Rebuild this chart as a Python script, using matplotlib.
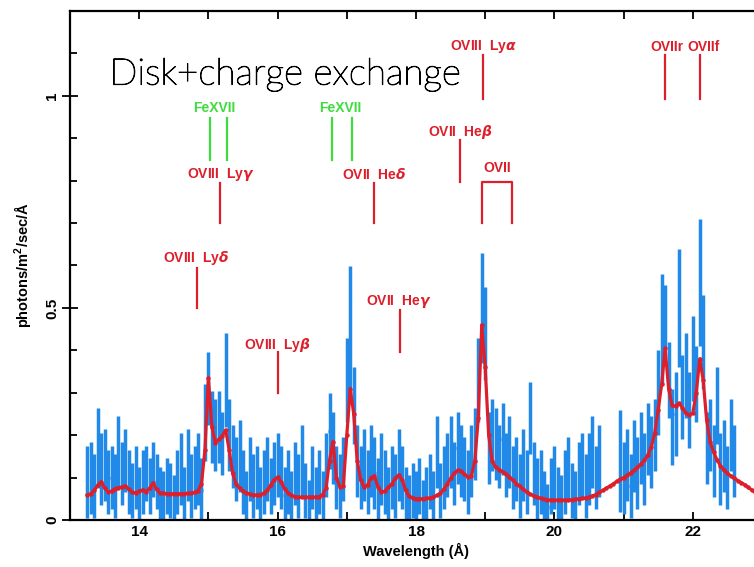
import numpy as np
import matplotlib
matplotlib.use("Agg")
import matplotlib.pyplot as plt
import matplotlib.patheffects as pe
from matplotlib.ticker import MultipleLocator, FixedLocator

nan = np.nan

# griglia in lunghezza d'onda (Angstrom)
wl_data = np.round(np.arange(13.25, 22.601, 0.05), 2)
wl_model = np.round(np.arange(13.25, 23.001, 0.05), 2)

# flusso osservato (photons/m^2/sec/A)
flux = [
    0.09, 0.10, 0.08, 0.17, 0.12, 0.13, 0.09, 0.10, 0.08, 0.16, 0.11, 0.14, 0.09, 0.07, 0.10, 0.06, 0.09, 0.11, 0.08, 0.12,
    0.09, 0.06, 0.05, 0.08, 0.07, 0.04, 0.09, 0.12, 0.06, 0.13, 0.08, 0.10, 0.12, 0.07, 0.23, 0.31, 0.22, 0.20, 0.22, 0.18,
    0.33, 0.20, 0.15, 0.12, 0.15, 0.09, 0.05, 0.12, 0.08, 0.10, 0.06, 0.09, 0.12, 0.08, 0.11, 0.13, 0.10, 0.06, 0.09, 0.05,
    0.11, 0.08, 0.14, 0.07, 0.04, 0.10, 0.06, 0.09, 0.05, 0.13, 0.21, 0.17, 0.10, 0.08, 0.12, 0.33, 0.45, 0.27, 0.14, 0.10,
    0.13, 0.09, 0.14, 0.11, 0.07, 0.12, 0.09, 0.06, 0.10, 0.08, 0.13, 0.10, 0.06, 0.04, 0.07, 0.05, 0.08, 0.04, 0.06, 0.09,
    0.05, 0.16, 0.07, 0.10, 0.13, 0.16, 0.11, 0.17, 0.14, 0.12, 0.09, 0.14, 0.18, 0.33, 0.50, 0.44, 0.17, 0.20, 0.18, 0.15,
    0.19, 0.13, 0.16, 0.10, 0.12, 0.08, 0.13, 0.09, 0.24, 0.11, 0.07, 0.09, 0.05, 0.03, 0.08, 0.10, 0.06, 0.04, 0.09, 0.12,
    0.07, 0.05, 0.11, 0.13, 0.08, 0.12, 0.16, 0.10, 0.14, nan, nan, nan, nan, nan, 0.14, 0.10, 0.13, 0.08, 0.15, 0.11,
    0.17, 0.12, 0.19, 0.16, 0.20, 0.30, 0.45, 0.47, 0.33, 0.22, 0.25, 0.50, 0.29, 0.34, 0.26, 0.38, 0.32, 0.56, 0.42, 0.17,
    0.20, 0.14, 0.27, 0.12, 0.15, 0.10, 0.20, 0.14,
]

flux_err = [
    0.085, 0.085, 0.075, 0.095, 0.085, 0.085, 0.075, 0.075, 0.075, 0.085, 0.075, 0.075, 0.075, 0.065, 0.075, 0.065, 0.075, 0.065, 0.065, 0.065,
    0.065, 0.065, 0.065, 0.065, 0.065, 0.065, 0.075, 0.085, 0.065, 0.085, 0.075, 0.075, 0.085, 0.075, 0.090, 0.085, 0.085, 0.085, 0.085, 0.075,
    0.110, 0.085, 0.075, 0.075, 0.085, 0.075, 0.065, 0.075, 0.075, 0.075, 0.065, 0.075, 0.075, 0.065, 0.075, 0.075, 0.075, 0.065, 0.075, 0.065,
    0.075, 0.075, 0.085, 0.065, 0.055, 0.075, 0.065, 0.075, 0.065, 0.075, 0.090, 0.085, 0.075, 0.075, 0.075, 0.100, 0.150, 0.090, 0.085, 0.075,
    0.085, 0.075, 0.085, 0.085, 0.075, 0.085, 0.075, 0.065, 0.075, 0.075, 0.085, 0.075, 0.065, 0.065, 0.065, 0.065, 0.065, 0.055, 0.065, 0.065,
    0.065, 0.085, 0.065, 0.075, 0.075, 0.085, 0.075, 0.085, 0.085, 0.075, 0.075, 0.085, 0.085, 0.100, 0.130, 0.110, 0.085, 0.085, 0.085, 0.075,
    0.085, 0.075, 0.085, 0.075, 0.075, 0.075, 0.085, 0.075, 0.085, 0.075, 0.075, 0.075, 0.065, 0.055, 0.065, 0.075, 0.065, 0.065, 0.075, 0.075,
    0.065, 0.065, 0.075, 0.075, 0.075, 0.085, 0.085, 0.075, 0.085, nan, nan, nan, nan, nan, 0.120, 0.085, 0.085, 0.075, 0.085, 0.085,
    0.085, 0.085, 0.085, 0.085, 0.085, 0.100, 0.130, 0.085, 0.090, 0.090, 0.100, 0.140, 0.100, 0.100, 0.090, 0.100, 0.090, 0.150, 0.110, 0.085,
    0.085, 0.085, 0.090, 0.085, 0.085, 0.075, 0.085, 0.085,
]

# modello disco + scambio di carica
model = [
    0.059, 0.062, 0.070, 0.082, 0.090, 0.076, 0.066, 0.068, 0.074, 0.076, 0.078, 0.080, 0.072, 0.065, 0.064, 0.068, 0.071, 0.067, 0.075, 0.087,
    0.072, 0.064, 0.063, 0.062, 0.062, 0.062, 0.062, 0.062, 0.062, 0.063, 0.063, 0.065, 0.069, 0.085, 0.165, 0.335, 0.220, 0.182, 0.190, 0.198,
    0.212, 0.165, 0.110, 0.085, 0.075, 0.068, 0.064, 0.061, 0.059, 0.059, 0.060, 0.063, 0.070, 0.082, 0.095, 0.101, 0.090, 0.074, 0.064, 0.058,
    0.055, 0.054, 0.054, 0.054, 0.054, 0.054, 0.054, 0.055, 0.060, 0.076, 0.140, 0.185, 0.100, 0.078, 0.080, 0.200, 0.310, 0.250, 0.140, 0.095,
    0.078, 0.082, 0.100, 0.104, 0.078, 0.066, 0.068, 0.077, 0.085, 0.098, 0.106, 0.095, 0.070, 0.056, 0.052, 0.050, 0.050, 0.050, 0.051, 0.052,
    0.054, 0.058, 0.063, 0.072, 0.085, 0.098, 0.110, 0.117, 0.115, 0.108, 0.102, 0.103, 0.140, 0.240, 0.460, 0.360, 0.200, 0.140, 0.124, 0.119,
    0.114, 0.108, 0.101, 0.094, 0.086, 0.079, 0.072, 0.066, 0.061, 0.057, 0.054, 0.051, 0.049, 0.048, 0.047, 0.047, 0.047, 0.047, 0.047, 0.047,
    0.048, 0.049, 0.050, 0.051, 0.052, 0.054, 0.057, 0.060, 0.065, 0.070, 0.075, 0.080, 0.085, 0.091, 0.096, 0.100, 0.105, 0.111, 0.117, 0.124,
    0.132, 0.141, 0.153, 0.172, 0.205, 0.260, 0.320, 0.405, 0.310, 0.270, 0.268, 0.275, 0.265, 0.252, 0.247, 0.252, 0.300, 0.380, 0.330, 0.235,
    0.185, 0.160, 0.142, 0.128, 0.118, 0.110, 0.104, 0.099, 0.093, 0.088, 0.083, 0.077, 0.071, 0.066, 0.062, 0.058,
]

# identificazione delle righe: (testo, x etichetta, y etichetta, x riga, y inizio, y fine)
red_labels = [
    (r"OVIII  Ly$\alpha$", 18.97, 1.116, [18.97], 1.097, 0.993),
    ("OVIIr", 21.62, 1.116, [21.60], 1.097, 0.993),
    ("OVIIf", 22.16, 1.116, [22.10], 1.097, 0.993),
    (r"OVIII  Ly$\gamma$", 15.18, 0.814, [15.17], 0.795, 0.700),
    (r"OVII  He$\delta$", 17.40, 0.814, [17.39], 0.795, 0.700),
    (r"OVII  He$\beta$", 18.64, 0.915, [18.63], 0.896, 0.797),
    (r"OVIII  Ly$\delta$", 14.82, 0.618, [14.83], 0.594, 0.500),
    (r"OVIII  Ly$\beta$", 16.00, 0.413, [16.00], 0.396, 0.300),
    (r"OVII  He$\gamma$", 17.75, 0.514, [17.77], 0.495, 0.396),
]
green_labels = [
    ("FeXVII", 15.08, 0.972, [15.03, 15.27], 0.948, 0.849),
    ("FeXVII", 16.90, 0.972, [16.79, 17.08], 0.948, 0.849),
]
triplet = [18.95, 19.39]

plt.rcParams["font.family"] = ["Liberation Sans", "DejaVu Sans"]
plt.rcParams["mathtext.fontset"] = "custom"
plt.rcParams["mathtext.it"] = "DejaVu Sans:italic:bold"
plt.rcParams["mathtext.rm"] = "Liberation Sans:bold"

blue = "#2189e8"
red = "#dd1f2b"
green = "#3fdc3f"

fig = plt.figure(figsize=(7.54, 5.67), dpi=100)
ax = fig.add_axes([70 / 754, 1 - 520 / 567, 692 / 754, 509 / 567])

ax.errorbar(wl_data, flux, yerr=flux_err, xerr=0.015, fmt="none",
            ecolor=blue, elinewidth=2.5, capsize=0, zorder=2)
ax.plot(wl_model, model, color=red, lw=2.3, marker="o", ms=2.2, zorder=3)

for txt, xl, yl, xs, y0, y1 in red_labels:
    ax.text(xl, yl, txt, color=red, fontsize=10, fontweight="bold",
            ha="center", va="center")
    for x in xs:
        ax.plot([x, x], [y1, y0], color=red, lw=1.6)

for txt, xl, yl, xs, y0, y1 in green_labels:
    ax.text(xl, yl, txt, color=green, fontsize=10, fontweight="bold",
            ha="center", va="center")
    for x in xs:
        ax.plot([x, x], [y1, y0], color=green, lw=1.6)

ax.text(np.mean(triplet), 0.830, "OVII", color=red, fontsize=10,
        fontweight="bold", ha="center", va="center")
ax.plot([triplet[0], triplet[0], triplet[1], triplet[1]],
        [0.700, 0.797, 0.797, 0.700], color=red, lw=1.6)

ax.text(13.57, 1.05, "Disk+charge exchange", fontsize=26.5,
        family=["Lato", "DejaVu Sans"], fontweight="light",
        ha="left", va="center", color="black",
        path_effects=[pe.withStroke(linewidth=0.7, foreground="black")])

ax.set_xlim(13, 23)
ax.set_ylim(0, 1.2)
ax.xaxis.set_major_locator(FixedLocator([14, 16, 18, 20, 22]))
ax.xaxis.set_minor_locator(MultipleLocator(1))
ax.yaxis.set_major_locator(FixedLocator([0, 0.5, 1]))
ax.yaxis.set_minor_locator(MultipleLocator(0.1))
ax.set_yticklabels(["0", "0.5", "1"], rotation=90, va="center")
ax.tick_params(axis="x", which="both", direction="in", top=True,
               length=6, width=1.3, labelsize=11)
ax.tick_params(axis="y", which="major", direction="inout", right=True,
               length=12, width=1.3, labelsize=11, pad=2)
ax.tick_params(axis="y", which="minor", direction="in", right=True,
               length=5, width=1.3)
for lab in ax.get_xticklabels() + ax.get_yticklabels():
    lab.set_fontweight("bold")
for sp in ax.spines.values():
    sp.set_linewidth(1.6)

ax.set_xlabel("Wavelength (Å)", fontsize=10.5, fontweight="bold", labelpad=3)
ax.set_ylabel("photons/m$^{2}$/sec/Å", fontsize=10.5,
              fontweight="bold", labelpad=8)

fig.savefig("out.png", dpi=100)
